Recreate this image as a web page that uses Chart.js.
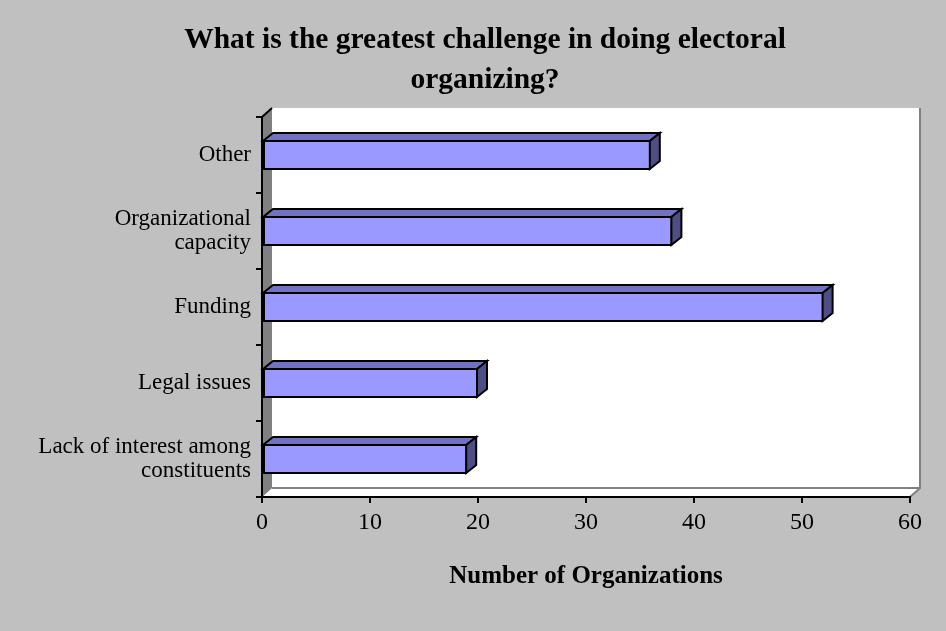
<!DOCTYPE html>
<html>
<head>
<meta charset="utf-8">
<script src="https://cdn.jsdelivr.net/npm/chart.js@4.4.0/dist/chart.umd.min.js"></script>
<style>
  html, body { margin: 0; padding: 0; background: #c0c0c0; }
  canvas { display: block; }
</style>
</head>
<body>
<canvas id="c" width="946" height="631"></canvas>
<script>
const chartTitle = ['What is the greatest challenge in doing electoral', 'organizing?'];
const categories = ['Other', ['Organizational', 'capacity'], 'Funding', 'Legal issues', ['Lack of interest among', 'constituents']];
const organizations = [36, 38, 52, 20, 19];
const xTicks = [0, 10, 20, 30, 40, 50, 60];
const xAxisTitle = 'Number of Organizations';

const FONT = '"Liberation Serif", "DejaVu Serif", serif';
const WALL = { dx: 10, dy: 9 };
const BAR3D = { dx: 10, dy: 8 };

const threeD = {
  id: 'threeD',
  beforeDraw(chart) {
    const { ctx, chartArea: a } = chart;
    const { dx, dy } = WALL;
    ctx.save();
    ctx.fillStyle = '#c0c0c0';
    ctx.fillRect(0, 0, chart.width, chart.height);
    // back wall
    ctx.fillStyle = '#ffffff';
    ctx.fillRect(a.left + dx, a.top - dy, a.right - a.left, a.bottom - a.top);
    // floor
    ctx.beginPath();
    ctx.moveTo(a.left, a.bottom);
    ctx.lineTo(a.right, a.bottom);
    ctx.lineTo(a.right + dx, a.bottom - dy);
    ctx.lineTo(a.left + dx, a.bottom - dy);
    ctx.closePath();
    ctx.fill();
    // gray edges of wall / floor
    ctx.strokeStyle = '#808080';
    ctx.lineWidth = 2;
    ctx.beginPath();
    ctx.moveTo(a.left + dx, a.bottom - dy);
    ctx.lineTo(a.right + dx, a.bottom - dy);
    ctx.lineTo(a.right + dx, a.top - dy);
    ctx.moveTo(a.right + dx, a.bottom - dy);
    ctx.lineTo(a.right, a.bottom);
    ctx.stroke();
    // left side wall
    ctx.fillStyle = '#808080';
    ctx.beginPath();
    ctx.moveTo(a.left, a.top);
    ctx.lineTo(a.left + dx, a.top - dy);
    ctx.lineTo(a.left + dx, a.bottom - dy);
    ctx.lineTo(a.left, a.bottom);
    ctx.closePath();
    ctx.fill();
    ctx.strokeStyle = '#000000';
    ctx.beginPath();
    ctx.moveTo(a.left, a.top);
    ctx.lineTo(a.left + dx, a.top - dy);
    ctx.stroke();
    ctx.restore();
  },
  afterDatasetsDraw(chart) {
    const { ctx } = chart;
    const { dx, dy } = BAR3D;
    const meta = chart.getDatasetMeta(0);
    ctx.save();
    ctx.strokeStyle = '#000000';
    ctx.lineWidth = 2;
    ctx.lineJoin = 'miter';
    meta.data.forEach(bar => {
      const p = bar.getProps(['x', 'y', 'base', 'height'], true);
      const t = p.y - p.height / 2 + 1;
      const b = p.y + p.height / 2 - 1;
      const x = p.x - 1;
      const base = p.base;
      // top face
      ctx.fillStyle = '#7272c2';
      ctx.beginPath();
      ctx.moveTo(base, t);
      ctx.lineTo(x, t);
      ctx.lineTo(x + dx, t - dy);
      ctx.lineTo(base + dx, t - dy);
      ctx.closePath();
      ctx.fill();
      ctx.stroke();
      // side face
      ctx.fillStyle = '#4e4e85';
      ctx.beginPath();
      ctx.moveTo(x, t);
      ctx.lineTo(x + dx, t - dy);
      ctx.lineTo(x + dx, b - dy);
      ctx.lineTo(x, b);
      ctx.closePath();
      ctx.fill();
      ctx.stroke();
    });
    ctx.restore();
  }
};

const LEFT_PAD = 36;
const RIGHT_PAD = 12;

new Chart(document.getElementById('c'), {
  type: 'bar',
  data: {
    labels: categories,
    datasets: [{
      data: organizations,
      backgroundColor: '#9999ff',
      borderColor: '#000000',
      borderWidth: 2,
      borderSkipped: false,
      categoryPercentage: 1,
      barPercentage: 30 / 76
    }]
  },
  options: {
    indexAxis: 'y',
    responsive: false,
    animation: false,
    devicePixelRatio: 1,
    layout: { padding: { left: LEFT_PAD, right: RIGHT_PAD, top: 0, bottom: 0 } },
    plugins: {
      legend: { display: false },
      tooltip: { enabled: false },
      title: {
        display: true,
        text: chartTitle,
        color: '#000000',
        font: { family: FONT, size: 29.5, weight: 'bold', lineHeight: 40 / 29.5 },
        padding: { top: 20, bottom: 17 }
      }
    },
    scales: {
      x: {
        type: 'linear',
        min: 0,
        max: 60,
        afterBuildTicks(scale) { scale.ticks = xTicks.map(v => ({ value: v })); },
        afterFit(scale) { scale.height = 631 - 497; },
        grid: { drawOnChartArea: false, drawTicks: true, tickLength: 6, color: '#000000', lineWidth: 2 },
        border: { display: true, color: '#000000', width: 2 },
        ticks: { color: '#000000', font: { family: FONT, size: 24 }, padding: 5, maxRotation: 0 },
        title: {
          display: true,
          text: xAxisTitle,
          color: '#000000',
          font: { family: FONT, size: 25, weight: 'bold', lineHeight: 1.2 },
          padding: { top: 0, bottom: 39 }
        }
      },
      y: {
        afterFit(scale) { scale.width = 262 - LEFT_PAD; },
        grid: { drawOnChartArea: false, drawTicks: true, tickLength: 6, color: '#000000', lineWidth: 2 },
        border: { display: true, color: '#000000', width: 2 },
        ticks: { color: '#000000', font: { family: FONT, size: 23, lineHeight: 1.05 }, padding: 5 }
      },
      spacer: {
        axis: 'y',
        type: 'linear',
        position: 'right',
        display: true,
        grid: { display: false, drawTicks: false },
        border: { display: false },
        ticks: { display: false },
        afterFit(scale) { scale.width = 946 - RIGHT_PAD - 910; }
      }
    }
  },
  plugins: [threeD]
});
</script>
</body>
</html>
